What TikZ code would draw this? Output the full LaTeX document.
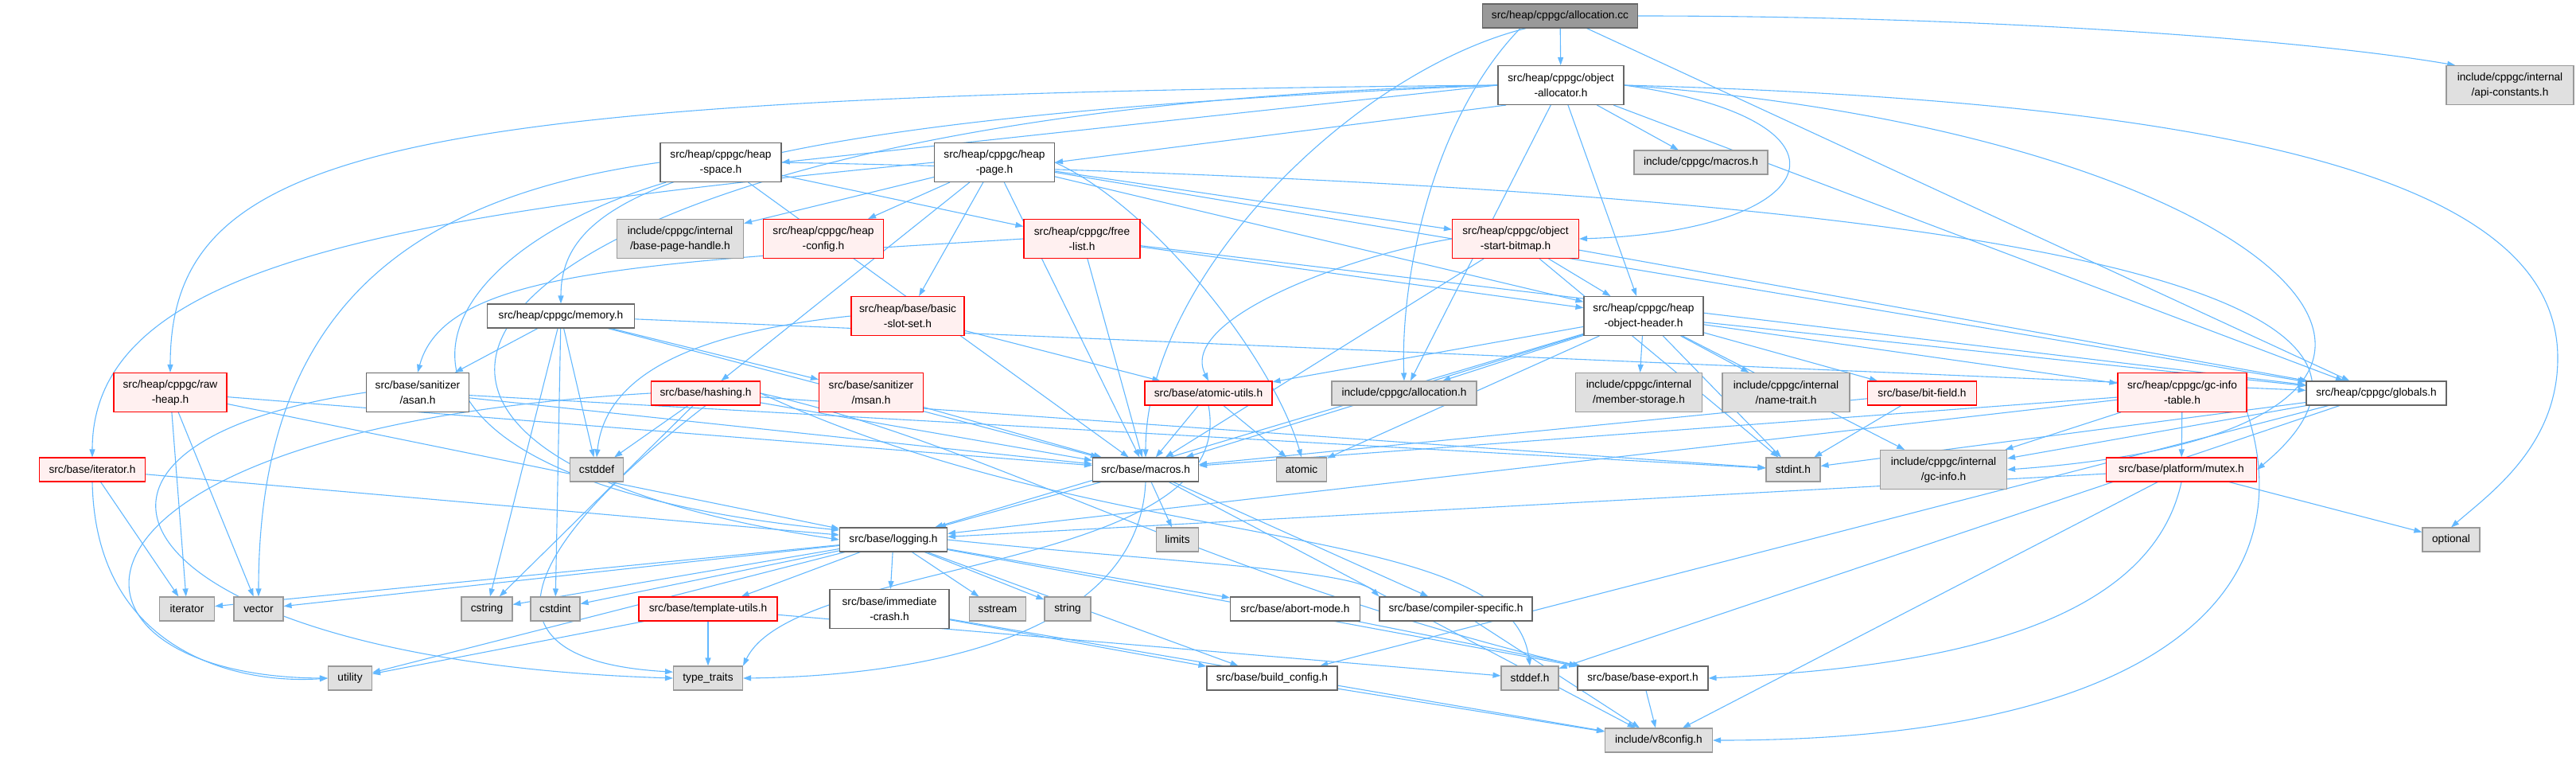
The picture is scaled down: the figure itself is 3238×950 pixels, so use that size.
\documentclass[tikz,border=0pt]{standalone}
\usepackage{fontspec}
\setmainfont{Liberation Sans}
\usetikzlibrary{arrows.meta}
\definecolor{edgec}{HTML}{63B8FF}
\definecolor{bordn}{HTML}{666666}
\definecolor{bordg}{HTML}{999999}
\definecolor{fillg}{HTML}{E0E0E0}
\definecolor{fillr}{HTML}{FFF0F0}
\definecolor{fillroot}{HTML}{999999}
\pgfdeclarelayer{edgelayer}
\pgfsetlayers{edgelayer,main}
\begin{document}
\begin{tikzpicture}[x=1pt,y=-1pt,
  nd/.style={draw=bordn, fill=white, line width=1.1pt, inner sep=0pt, align=center,
    minimum height=30pt, font=\fontsize{13.7}{19}\selectfont},
  two/.style={minimum height=49pt},
  rd/.style={nd, draw=red, fill=fillr},
  gy/.style={nd, draw=bordg, fill=fillg},
  rt/.style={nd, draw=bordn, fill=fillroot},
  e/.style={draw=edgec, line width=1.1pt, -{Triangle[length=10pt,width=7pt]}}]
\useasboundingbox (0,0) rectangle (3238,950);

% nodes
\node[rt, minimum width=195pt] (root) at (1961,20) {src/heap/cppgc/allocation.cc};
\node[nd, two, minimum width=158pt] (oa) at (1962,107) {src/heap/cppgc/object\\-allocator.h};
\node[gy, two, minimum width=160pt] (api) at (3155,107) {include/cppgc/internal\\/api-constants.h};
\node[nd, two, minimum width=152pt] (hs) at (906,204) {src/heap/cppgc/heap\\-space.h};
\node[nd, two, minimum width=151pt] (hp) at (1250,204) {src/heap/cppgc/heap\\-page.h};
\node[gy, minimum width=168pt] (cmac) at (2138,204) {include/cppgc/macros.h};
\node[gy, two, minimum width=159pt] (bph) at (855,300) {include/cppgc/internal\\/base-page-handle.h};
\node[rd, two, minimum width=151pt] (hcfg) at (1035,300) {src/heap/cppgc/heap\\-config.h};
\node[rd, two, minimum width=146pt] (fl) at (1360,300) {src/heap/cppgc/free\\-list.h};
\node[rd, two, minimum width=159pt] (osb) at (1905,300) {src/heap/cppgc/object\\-start-bitmap.h};
\node[nd, minimum width=185pt] (mem) at (705,397) {src/heap/cppgc/memory.h};
\node[rd, two, minimum width=142pt] (bss) at (1141,397) {src/heap/base/basic\\-slot-set.h};
\node[nd, two, minimum width=150pt] (hoh) at (2066,397) {src/heap/cppgc/heap\\-object-header.h};
\node[rd, two, minimum width=142pt] (rh) at (214,493) {src/heap/cppgc/raw\\-heap.h};
\node[nd, two, minimum width=129pt] (asan) at (525,493) {src/base/sanitizer\\/asan.h};
\node[rd, minimum width=137pt] (hash) at (887,494) {src/base/hashing.h};
\node[rd, two, minimum width=131pt] (msan) at (1095,493) {src/base/sanitizer\\/msan.h};
\node[rd, minimum width=160pt] (au) at (1519,494) {src/base/atomic-utils.h};
\node[gy, minimum width=182pt] (calloc) at (1765,494) {include/cppgc/allocation.h};
\node[gy, two, minimum width=159pt] (ms) at (2060,493) {include/cppgc/internal\\/member-storage.h};
\node[gy, two, minimum width=160pt] (nt) at (2245,493) {include/cppgc/internal\\/name-trait.h};
\node[rd, minimum width=137pt] (bf) at (2416,494) {src/base/bit-field.h};
\node[rd, two, minimum width=162pt] (git) at (2743,493) {src/heap/cppgc/gc-info\\-table.h};
\node[nd, minimum width=176pt] (glob) at (2987,494) {src/heap/cppgc/globals.h};
\node[rd, minimum width=133pt] (ith) at (116,590) {src/base/iterator.h};
\node[gy, minimum width=67pt] (cstddef) at (750,590) {cstddef};
\node[nd, minimum width=133pt] (bmac) at (1440,590) {src/base/macros.h};
\node[gy, minimum width=63pt] (atomic) at (1636,590) {atomic};
\node[gy, minimum width=68pt] (stdint) at (2254,590) {stdint.h};
\node[gy, two, minimum width=159pt] (gci) at (2443,590) {include/cppgc/internal\\/gc-info.h};
\node[rd, minimum width=189pt] (mutex) at (2742,590) {src/base/platform/mutex.h};
\node[nd, minimum width=135pt] (log) at (1123,678) {src/base/logging.h};
\node[gy, minimum width=53pt] (limits) at (1480,678) {limits};
\node[gy, minimum width=72pt] (optional) at (3081,678) {optional};
\node[gy, minimum width=69pt] (iter) at (235,765) {iterator};
\node[gy, minimum width=62pt] (vector) at (325,765) {vector};
\node[gy, minimum width=64pt] (cstring) at (612,765) {cstring};
\node[gy, minimum width=62pt] (cstdint) at (698,765) {cstdint};
\node[rd, minimum width=174pt] (tu) at (890,765) {src/base/template-utils.h};
\node[nd, two, minimum width=150pt] (ic) at (1118,765) {src/base/immediate\\-crash.h};
\node[gy, minimum width=71pt] (sstream) at (1254,765) {sstream};
\node[gy, minimum width=58pt] (string) at (1342,765) {string};
\node[nd, minimum width=163pt] (am) at (1628,765) {src/base/abort-mode.h};
\node[nd, minimum width=192pt] (cs) at (1830,765) {src/base/compiler-specific.h};
\node[gy, minimum width=55pt] (utility) at (440,852) {utility};
\node[gy, minimum width=87pt] (tt) at (890,852) {type\_traits};
\node[nd, minimum width=164pt] (bc) at (1599,852) {src/base/build\_config.h};
\node[gy, minimum width=72pt] (stddef) at (1923,852) {stddef.h};
\node[nd, minimum width=164pt] (be) at (2065,852) {src/base/base-export.h};
\node[gy, minimum width=135pt] (v8) at (2085,930) {include/v8config.h};

\begin{pgfonlayer}{edgelayer}
% root
\draw[e] (root) -- (oa);
\draw[e] (root.east) .. controls (2500,20) and (2900,50) .. (api.160);
\draw[e] (root.200) .. controls (1700,90) and (1440,350) .. (bmac.north);
\draw[e] ([xshift=-50pt]root.south) .. controls (1800,150) and (1760,350) .. (calloc.north);
\draw[e] (root) -- (glob);
% object-allocator
\draw[e] (oa.west) -- (hs.east);
\draw[e] (oa.200) -- (hp.east);
\draw[e] (oa) -- (cmac);
\draw[e] (oa.east) .. controls (2350,150) and (2300,290) .. (osb.east);
\draw[e] (oa) -- (hoh);
\draw[e] (oa.west) .. controls (850,150) and (705,250) .. (mem.north);
\draw[e] (oa.west) .. controls (500,120) and (214,180) .. (rh.north);
\draw[e] (oa.west) .. controls (600,135) and (250,560) .. (log.west);
\draw[e] (oa) -- (calloc);
\draw[e] (oa) -- (glob);
\draw[e] (oa.east) .. controls (2900,130) and (3215,250) .. (3215,450) .. controls (3215,560) and (3130,620) .. (optional.north);
\draw[e] (oa.east) .. controls (2900,170) and (3230,540) .. (gci.east);
% heap-space
\draw[e] (hs.west) .. controls (500,250) and (325,400) .. (vector.north);
\draw[e] (hs.200) .. controls (500,330) and (400,600) .. (log.170);
\draw[e] (hs) -- (bmac);
\draw[e] (hs) -- (fl);
\draw[e] (hs.east) .. controls (2300,230) and (3150,330) .. (mutex.east);
% heap-page
\draw[e] (hp) -- (bph);
\draw[e] (hp) -- (hcfg);
\draw[e] (hp.west) .. controls (500,270) and (116,330) .. (ith.north);
\draw[e] (hp) -- (hash);
\draw[e] (hp) -- (bss);
\draw[e] (hp) -- (bmac);
\draw[e] (hp.east) .. controls (1450,260) and (1600,450) .. (atomic.north);
\draw[e] (hp) -- (osb);
\draw[e] (hp) -- (hoh);
\draw[e] (hp) -- (glob);
% free-list
\draw[e] (fl.west) .. controls (800,330) and (560,340) .. (asan.north);
\draw[e] (fl) -- (bmac);
\draw[e] (fl) -- (glob);
\draw[e] (fl) -- (hoh);
% object-start-bitmap
\draw[e] (osb.west) .. controls (1700,320) and (1480,400) .. (au.north);
\draw[e] (osb) -- (bmac);
\draw[e] (osb) -- (hoh);
\draw[e] (osb) -- (glob);
\draw[e] (osb) -- (stdint);
% memory
\draw[e] (mem) -- (asan);
\draw[e] (mem) -- (cstddef);
\draw[e] (mem) -- (cstring);
\draw[e] (mem) -- (cstdint);
\draw[e] (mem) -- (msan);
\draw[e] (mem) -- (bmac);
\draw[e] (mem) -- (glob);
% basic-slot-set
\draw[e] (bss.west) .. controls (850,420) and (760,480) .. (cstddef.north);
\draw[e] (bss) -- (au);
% heap-object-header
\draw[e] (hoh) -- (calloc);
\draw[e] (hoh) -- (ms);
\draw[e] (hoh) -- (nt);
\draw[e] (hoh) -- (bf);
\draw[e] (hoh) -- (git);
\draw[e] (hoh) -- (glob);
\draw[e] (hoh) -- (au);
\draw[e] (hoh) -- (bmac);
\draw[e] (hoh) -- (log);
\draw[e] (hoh) -- (atomic);
\draw[e] (hoh) -- (stdint);
\draw[e] (hoh) -- (gci);
% raw-heap
\draw[e] (rh) -- (iter);
\draw[e] (rh) -- (vector);
\draw[e] (rh) -- (log);
\draw[e] (rh) -- (bmac);
% asan, msan, hashing
\draw[e] (asan) -- (stdint);
\draw[e] (asan) -- (bmac);
\draw[e] (asan.west) .. controls (0,560) and (150,830) .. (tt.west);
\draw[e] (msan) -- (bmac);
\draw[e] (hash) -- (bmac);
\draw[e] (hash.east) .. controls (1250,560) and (1500,720) .. (be.north west);
\draw[e] (hash) -- (cstring);
\draw[e] (hash.east) .. controls (1400,700) and (1900,650) .. (stddef.north);
\draw[e] (hash) -- (stdint);
\draw[e] (hash) -- (cstddef);
\draw[e] (hash.south) .. controls (640,700) and (600,830) .. (tt.170);
\draw[e] (hash.west) .. controls (20,540) and (40,850) .. (utility.west);
% atomic-utils
\draw[e] (au) -- (bmac);
\draw[e] (au) -- (atomic);
\draw[e] (au.south) .. controls (1560,720) and (1000,700) .. (tt.north east);
% bit-field
\draw[e] (bf) -- (stdint);
\draw[e] (bf) -- (bmac);
% gc-info-table
\draw[e] (git) -- (gci);
\draw[e] (git) -- (mutex);
\draw[e] (git.south east) .. controls (2900,750) and (2700,930) .. (v8.east);
\draw[e] (git) -- (log);
\draw[e] (git) -- (bmac);
% globals
\draw[e] (glob) -- (stddef);
\draw[e] (glob) -- (stdint);
\draw[e] (glob) -- (gci);
\draw[e] (glob) -- (bc);
% iterator.h
\draw[e] (ith) -- (iter);
\draw[e] (ith.south) .. controls (120,820) and (300,860) .. (utility.west);
\draw[e] (ith) -- (log);
% mutex
\draw[e] (mutex) -- (optional);
\draw[e] (mutex) -- (v8);
\draw[e] (mutex.south) .. controls (2700,800) and (2400,840) .. (be.east);
\draw[e] (mutex) -- (log);
% macros
\draw[e] (bmac) -- (log);
\draw[e] (bmac) -- (limits);
\draw[e] (bmac.south) .. controls (1430,820) and (1100,850) .. (tt.east);
\draw[e] (bmac) -- (cs);
\draw[e] (bmac) -- (v8);
% logging
\draw[e] (log) -- (iter);
\draw[e] (log) -- (vector);
\draw[e] (log) -- (cstring);
\draw[e] (log) -- (cstdint);
\draw[e] (log) -- (tu);
\draw[e] (log) -- (ic);
\draw[e] (log) -- (sstream);
\draw[e] (log) -- (string);
\draw[e] (log) -- (am);
\draw[e] (log.east) .. controls (1450,705) and (1700,715) .. (cs.north west);
\draw[e] (log) -- (bc);
\draw[e] (log) -- (be);
\draw[e] (log) -- (utility);
% leaves
\draw[e] (tu) -- (stddef);
\draw[e] (tu) -- (tt);
\draw[e] (tu) -- (utility);
\draw[e] (ic) -- (bc);
\draw[e] (ic) -- (v8);
\draw[e] (am) -- (be);
\draw[e] (cs) -- (v8);
\draw[e] (bc) -- (v8);
\draw[e] (be) -- (v8);
\end{pgfonlayer}
\end{tikzpicture}
\end{document}
